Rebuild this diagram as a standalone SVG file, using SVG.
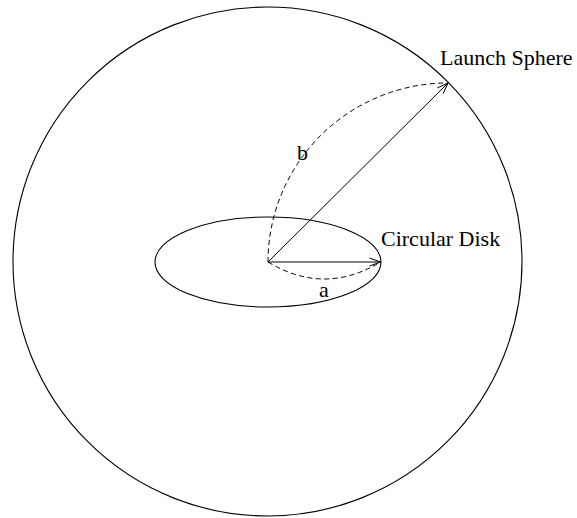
<svg xmlns="http://www.w3.org/2000/svg" width="577" height="518" viewBox="0 0 577 518">
<style>
.shape{fill:none;stroke:#000;stroke-width:1.1}
.conn{fill:none;stroke:#000;stroke-width:1}
.dash{fill:none;stroke:#000;stroke-width:1;stroke-dasharray:5,3.5}
.lbl{font-family:"Liberation Serif","Times New Roman",serif;font-size:22px;fill:#000}
</style>
<defs>
<marker id="arr" markerUnits="userSpaceOnUse" markerWidth="12" markerHeight="10" refX="11" refY="4" orient="auto" overflow="visible">
<path d="M0,0 L11,4 L0,8" fill="none" stroke="#000" stroke-width="1"/>
</marker>
</defs>
<rect width="577" height="518" fill="#fff"/>
<g id="launch-sphere">
<circle class="shape" cx="267.5" cy="261.5" r="254.5"/>
<text class="lbl" x="440" y="65">Launch Sphere</text>
</g>
<g id="circular-disk">
<ellipse class="shape" cx="268" cy="262" rx="113" ry="45"/>
<text class="lbl" x="381" y="246">Circular Disk</text>
</g>
<g id="connectors">
<line class="conn" x1="268" y1="262" x2="380.5" y2="262" marker-end="url(#arr)"/>
<line class="conn" x1="268" y1="262" x2="448" y2="83" marker-end="url(#arr)"/>
<path class="dash" d="M268,262 Q324.5,296 380.5,262"/>
<path class="dash" d="M268,262 A180,179 0 0 1 447,83"/>
<text class="lbl" x="297" y="160">b</text>
<text class="lbl" x="319" y="297">a</text>
</g>
</svg>
